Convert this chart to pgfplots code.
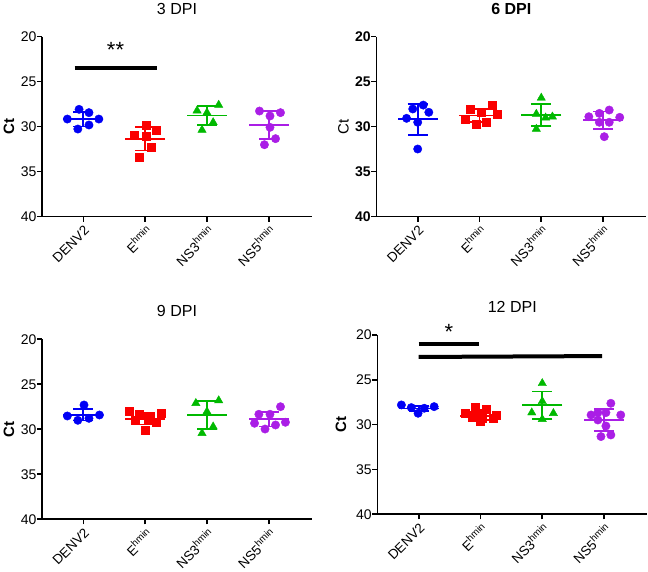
\documentclass[border=0pt]{standalone}
\usepackage{fontspec}
\setmainfont{Liberation Sans}
\usepackage{pgfplots}
\pgfplotsset{compat=1.18}
\definecolor{cblue}{RGB}{0,0,245}
\definecolor{cred}{RGB}{250,0,0}
\definecolor{cgreen}{RGB}{0,185,0}
\definecolor{cpurple}{RGB}{170,30,230}
\newcommand{\hm}{\raisebox{5.3pt}{\fontsize{9.8}{10}\selectfont hmin}}
\pgfplotsset{
  dpi/.style={
    scale only axis, width=270pt, height=180pt,
    xmin=-0.67, xmax=3.7, ymin=20, ymax=40, y dir=reverse,
    axis x line=bottom, axis y line=left,
    axis line style={line width=1.6pt, -},
    xtick={0,1,2,3},
    xticklabels={DENV2, E\hm, NS3\hm, NS5\hm},
    ytick={20,25,30,35,40},
    tick align=outside, major tick length=5pt,
    tick style={line width=1.6pt, black},
    xticklabel style={rotate=45, anchor=north east, inner sep=2pt, font=\fontsize{13.5}{14}\selectfont},
    yticklabel style={xshift=3pt, font=\fontsize{14}{14}\selectfont},
    /pgf/number format/assume math mode=true,
    ylabel={Ct},
    ylabel style={at={(axis description cs:-0.122,0.5)}, anchor=center, font=\fontsize{15}{15}\selectfont\bfseries},
    title style={at={(axis description cs:0.5,1)}, yshift=22pt, anchor=center, font=\fontsize{16}{16}\selectfont},
    clip=false,
  },
  pts/.style={only marks, color=#1, mark size=4.2},
  stat/.style={color=#1, only marks, mark=-, mark size=20,
    mark options={line width=1.8pt},
    error bars/.cd, y dir=both, y explicit,
    error bar style={line width=1.8pt, #1},
    error mark options={rotate=90, line width=1.8pt, mark size=10, #1}},
  sig/.style={black, line width=4pt, mark=none},
}
\begin{document}
\begin{tikzpicture}
\useasboundingbox (0,0) rectangle (648pt,572pt);
% ---------- 3 DPI ----------
\begin{axis}[dpi, at={(42pt,355.3pt)}, anchor=south west, title={3 DPI}]
\addplot[pts=cblue, mark=*] coordinates {(-0.07,28.07) (0.09,28.44) (-0.26,29.15) (0.25,29.15) (-0.09,30.26) (0.09,29.81)};
\addplot[stat=cblue] coordinates {(0,29.15) +- (0,0.82)};
\addplot[pts=cred, mark=square*, mark size=4] coordinates {(1.01,29.81) (1.18,30.4) (0.82,30.96) (1.01,31.03) (1.09,32.33) (0.91,33.4)};
\addplot[stat=cred] coordinates {(1,31.35) +- (0,1.3)};
\addplot[pts=cgreen, mark=triangle*, mark size=4.8] coordinates {(1.84,28.22) (2.19,27.59) (2.0,28.44) (2.1,29.52) (1.92,30.37)};
\addplot[stat=cgreen] coordinates {(2,28.75) +- (0,1.05)};
\addplot[pts=cpurple, mark=*] coordinates {(2.85,28.26) (3.19,28.44) (3.02,28.81) (3.02,30.07) (3.11,31.33) (2.93,32.0)};
\addplot[stat=cpurple] coordinates {(3,29.82) +- (0,1.58)};
\addplot[sig] coordinates {(-0.14,23.5) (1.19,23.5)};
\node[anchor=base, font=\fontsize{22}{22}\selectfont] at (axis cs:0.52,22.3) {**};
\end{axis}
% ---------- 6 DPI ----------
\begin{axis}[dpi, at={(376.3pt,355.3pt)}, anchor=south west, title={\bfseries 6 DPI},
  yticklabel style={font=\fontsize{14}{14}\selectfont\bfseries},
  ylabel style={font=\fontsize{15}{15}\selectfont\mdseries}]
\addplot[pts=cblue, mark=*] coordinates {(0.09,27.6) (-0.08,28.03) (0.18,28.4) (-0.18,29.07) (0,29.51) (0,32.48)};
\addplot[stat=cblue] coordinates {(0,29.18) +- (0,1.74)};
\addplot[pts=cred, mark=square*, mark size=4] coordinates {(0.85,28.03) (1.2,27.59) (1.03,28.4) (1.29,28.59) (0.77,29.14) (1.11,29.51) (0.95,29.77)};
\addplot[stat=cred] coordinates {(1,28.75) +- (0,0.75)};
\addplot[pts=cgreen, mark=triangle*, mark size=4.8] coordinates {(2,26.8) (1.92,28.59) (2.07,29.0) (2.18,28.89) (1.92,30.26)};
\addplot[stat=cgreen] coordinates {(2,28.68) +- (0,1.24)};
\addplot[pts=cpurple, mark=*] coordinates {(2.77,28.89) (2.94,28.52) (3.1,28.15) (3.27,28.96) (2.94,29.51) (3.1,29.51) (3.02,31.11)};
\addplot[stat=cpurple] coordinates {(3,29.3) +- (0,0.98)};
\end{axis}
% ---------- 9 DPI ----------
\begin{axis}[dpi, at={(42pt,52.7pt)}, anchor=south west, title={9 DPI}]
\addplot[pts=cblue, mark=*] coordinates {(0.01,27.3) (-0.26,28.52) (-0.09,29.0) (0.09,28.78) (0.26,28.41)};
\addplot[stat=cblue] coordinates {(0,28.4) +- (0,0.63)};
\addplot[pts=cred, mark=square*, mark size=4] coordinates {(0.74,27.97) (0.91,28.3) (1.08,28.49) (1.26,28.22) (0.84,28.97) (1.07,28.89) (1.18,29.16) (1.0,30.08)};
\addplot[stat=cred] coordinates {(1,28.82) +- (0,0.65)};
\addplot[pts=cgreen, mark=triangle*, mark size=4.8] coordinates {(1.82,27.1) (2.19,26.8) (2.0,28.04) (2.1,29.71) (1.92,30.44)};
\addplot[stat=cgreen] coordinates {(2,28.4) +- (0,1.55)};
\addplot[pts=cpurple, mark=*] coordinates {(3.19,27.49) (2.84,28.33) (3.02,28.33) (2.77,29.33) (2.94,29.97) (3.11,29.52) (3.27,29.22)};
\addplot[stat=cpurple] coordinates {(3,28.89) +- (0,0.8)};
\end{axis}
% ---------- 12 DPI ----------
\begin{axis}[dpi, at={(377.3pt,57.7pt)}, anchor=south west, height=179.3pt, title={12 DPI},
  ylabel style={at={(axis description cs:-0.135,0.5)}}]
\addplot[pts=cblue, mark=*] coordinates {(-0.28,27.8) (-0.12,28.1) (-0.01,28.73) (0.09,28.17) (0.25,27.99)};
\addplot[stat=cblue] coordinates {(0,28.2) +- (0,0.3)};
\addplot[pts=cred, mark=square*, mark size=4] coordinates {(0.92,28.0) (1.1,28.3) (0.76,28.75) (0.95,28.7) (1.25,28.9) (0.86,29.2) (1.03,29.3) (1.2,29.3) (1.0,29.6)};
\addplot[stat=cred] coordinates {(1,29.0) +- (0,0.45)};
\addplot[pts=cgreen, mark=triangle*, mark size=4.8] coordinates {(2,25.39) (2,27.4) (1.83,28.66) (2.18,28.73) (2,29.4)};
\addplot[stat=cgreen] coordinates {(2,27.85) +- (0,1.55)};
\addplot[pts=cpurple, mark=*] coordinates {(3.11,27.62) (2.9,28.66) (3.03,28.66) (2.79,28.92) (3.27,28.92) (2.9,29.48) (3.03,30.15) (2.95,31.33) (3.11,31.15)};
\addplot[stat=cpurple] coordinates {(3,29.48) +- (0,1.2)};
\addplot[sig] coordinates {(0,21.0) (0.98,21.0)};
\addplot[sig] coordinates {(0,22.45) (2.97,22.35)};
\node[anchor=base, font=\fontsize{22}{22}\selectfont] at (axis cs:0.49,20.55) {*};
\end{axis}
\end{tikzpicture}
\end{document}
